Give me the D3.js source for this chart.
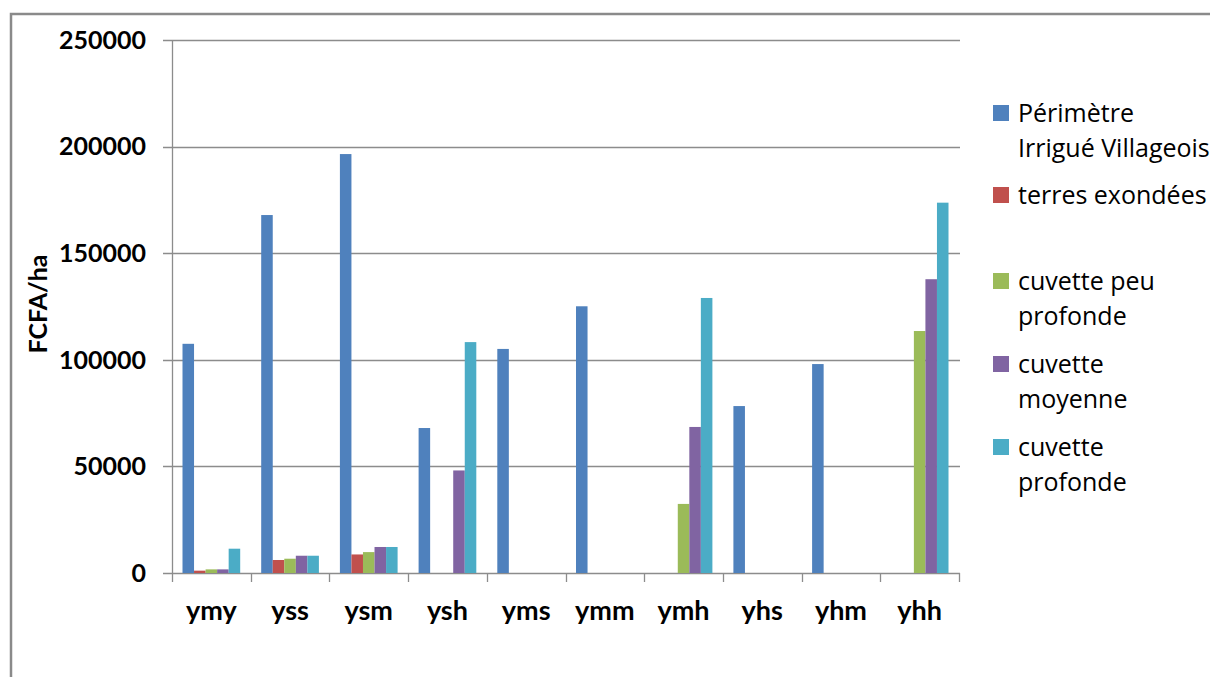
<!DOCTYPE html>
<html>
<head>
<meta charset="utf-8">
<script src="https://cdn.jsdelivr.net/npm/d3@7"></script>
<style>
  html, body { margin: 0; padding: 0; background: #fff; overflow: hidden; }
  #chart { width: 1210px; height: 677px; overflow: hidden; }
  text { font-family: Lato, "Open Sans", sans-serif; fill: #000; }
  text.legend-label { font-family: "Open Sans", sans-serif; }
</style>
</head>
<body>
<div id="chart"></div>
<script>

// categories and series values (FCFA/ha)
const categories = ["ymy", "yss", "ysm", "ysh", "yms", "ymm", "ymh", "yhs", "yhm", "yhh"];
const seriesKeys = ["piv", "terres", "cuvPeu", "cuvMoy", "cuvProf"];
const seriesLabels = [
  ["Périmètre", "Irrigué Villageois"],
  ["terres exondées"],
  ["cuvette peu", "profonde"],
  ["cuvette", "moyenne"],
  ["cuvette", "profonde"]
];
const seriesColors = ["#4F81BD", "#C0504D", "#9BBB59", "#8064A2", "#4BACC6"];

const piv     = [107500, 167900, 196500, 68000, 105100, 125100, 0, 78300, 98000, 0];
const terres  = [1100, 6100, 8700, 0, 0, 0, 0, 0, 0, 0];
const cuvPeu  = [1700, 6700, 9800, 0, 0, 0, 32400, 0, 0, 113500];
const cuvMoy  = [1700, 8100, 12200, 48100, 0, 0, 68500, 0, 0, 137800];
const cuvProf = [11400, 8100, 12200, 108300, 0, 0, 129000, 0, 0, 173700];

const yTicks = [0, 50000, 100000, 150000, 200000, 250000];
const yTitle = "FCFA/ha";

const seriesValues = [piv, terres, cuvPeu, cuvMoy, cuvProf];

// --------------------------------------
//  Canvas
// --------------------------------------

const width = 1210;
const height = 677;
const plot = {left: 172, right: 959, top: 40, bottom: 573};

const svg = d3.select("#chart")
  .append("svg")
    .attr("width", width)
    .attr("height", height);

// outer frame (runs off the right and bottom edges)
svg.append("rect")
    .attr("x", 11)
    .attr("y", 14)
    .attr("width", 1230)
    .attr("height", 700)
    .attr("fill", "none")
    .attr("stroke", "#8a8a8a")
    .attr("stroke-width", 2.5);

// --------------------------------------
//  Scales
// --------------------------------------

let x = d3.scaleBand()
    .domain(categories)
    .range([plot.left, plot.right])
    .paddingInner(0)
    .paddingOuter(0);

let xSub = d3.scaleBand()
    .domain(seriesKeys)
    .range([0, x.bandwidth()])
    .paddingInner(0)
    .paddingOuter(0.91);

let y = d3.scaleLinear()
    .domain([0, 250000])
    .range([plot.bottom, plot.top]);

let color = d3.scaleOrdinal()
    .domain(seriesKeys)
    .range(seriesColors);

// --------------------------------------
//  Gridlines
// --------------------------------------

svg.selectAll(".grid")
  .data(yTicks)
  .join("line")
    .attr("class", "grid")
    .attr("x1", plot.left - 9)
    .attr("x2", plot.right + 1)
    .attr("y1", d => Math.round(y(d)) + 0.5)
    .attr("y2", d => Math.round(y(d)) + 0.5)
    .attr("stroke", "#8c8c8c")
    .attr("stroke-width", 1.3);

// --------------------------------------
//  Bars
// --------------------------------------

const rows = [];
categories.forEach((c, i) => {
  seriesKeys.forEach((k, j) => {
    rows.push({cat: c, key: k, value: seriesValues[j][i]});
  });
});

svg.selectAll(".bar")
  .data(rows.filter(d => d.value > 0))
  .join("rect")
    .attr("class", "bar")
    .attr("x", d => x(d.cat) + xSub(d.key))
    .attr("y", d => y(d.value))
    .attr("width", xSub.bandwidth())
    .attr("height", d => y(0) - y(d.value))
    .attr("fill", d => color(d.key));

// --------------------------------------
//  Axes
// --------------------------------------

// y axis line
svg.append("line")
    .attr("x1", plot.left + 0.5)
    .attr("x2", plot.left + 0.5)
    .attr("y1", plot.top)
    .attr("y2", plot.bottom)
    .attr("stroke", "#8c8c8c")
    .attr("stroke-width", 1.3);

// y tick labels
svg.selectAll(".ylabel")
  .data(yTicks)
  .join("text")
    .attr("class", "ylabel")
    .attr("x", 146)
    .attr("y", d => y(d))
    .attr("dy", "0.35em")
    .attr("text-anchor", "end")
    .attr("font-size", 25)
    .attr("font-weight", "bold")
    .text(d => d);

// x tick marks at category boundaries
const xEdges = categories.map(c => x(c)).concat([plot.right]);
svg.selectAll(".xtick")
  .data(xEdges)
  .join("line")
    .attr("class", "xtick")
    .attr("x1", d => Math.round(d) + 0.5)
    .attr("x2", d => Math.round(d) + 0.5)
    .attr("y1", plot.bottom)
    .attr("y2", plot.bottom + 9)
    .attr("stroke", "#8c8c8c")
    .attr("stroke-width", 1.3);

// x category labels
svg.selectAll(".xlabel")
  .data(categories)
  .join("text")
    .attr("class", "xlabel")
    .attr("x", d => x(d) + x.bandwidth() / 2)
    .attr("y", 620)
    .attr("text-anchor", "middle")
    .attr("font-size", 27)
    .attr("font-weight", "bold")
    .text(d => d);

// y title
svg.append("text")
    .attr("transform", "translate(47, 304) rotate(-90)")
    .attr("text-anchor", "middle")
    .attr("font-size", 25)
    .attr("font-weight", "bold")
    .text(yTitle);

// --------------------------------------
//  Legend
// --------------------------------------

const legendY = [113, 195, 281, 364, 447];

const legend = svg.selectAll(".legend")
  .data(seriesKeys)
  .join("g")
    .attr("class", "legend")
    .attr("transform", (d, i) => `translate(993, ${legendY[i]})`);

legend.append("rect")
    .attr("x", 0)
    .attr("y", -8)
    .attr("width", 16)
    .attr("height", 16)
    .attr("fill", d => color(d));

legend.each(function(d, i) {
  d3.select(this).selectAll("text")
    .data(seriesLabels[i])
    .join("text")
      .attr("class", "legend-label")
      .attr("x", 25)
      .attr("y", (t, k) => k * 35)
      .attr("dy", "0.35em")
      .attr("font-size", 25)
      .text(t => t);
});

</script>
</body>
</html>
